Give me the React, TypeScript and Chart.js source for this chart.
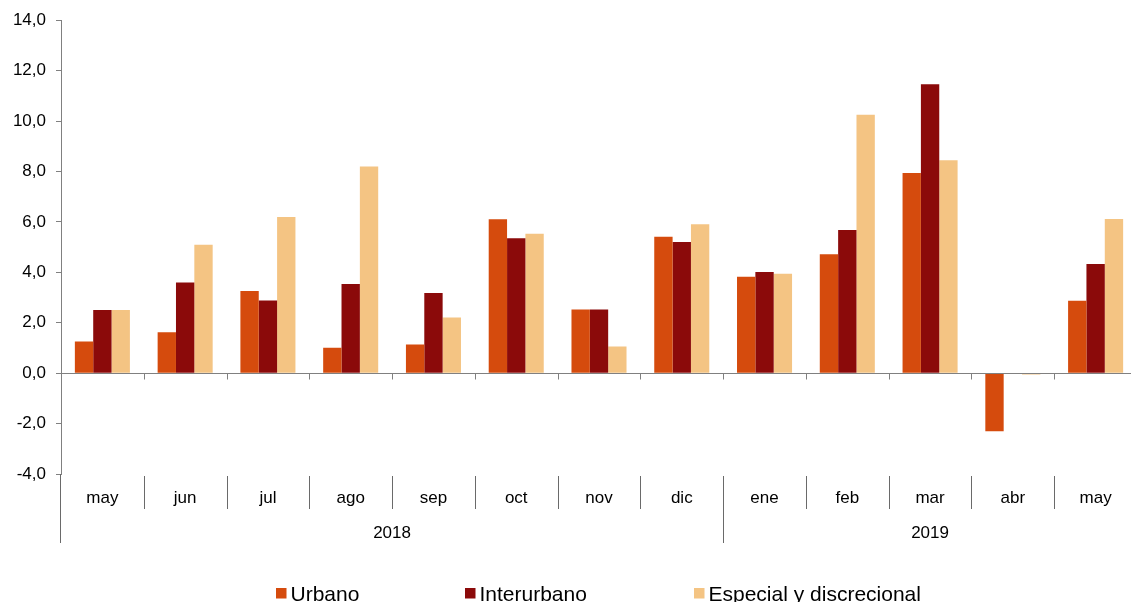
import React, { useEffect, useRef } from "react";
import { Chart, registerables } from "chart.js";

Chart.register(...registerables);

const months = ["may", "jun", "jul", "ago", "sep", "oct", "nov", "dic", "ene", "feb", "mar", "abr", "may"];
const years = ["2018", "2019"];
const yearStarts = [0, 8];
const yearEnds = [7, 12];
const urbano = [1.26, 1.62, 3.26, 1.01, 1.14, 6.1, 2.52, 5.41, 3.82, 4.72, 7.94, -2.3, 2.87];
const interurbano = [2.51, 3.6, 2.88, 3.54, 3.18, 5.35, 2.52, 5.2, 4.01, 5.68, 11.46, -0.03, 4.33];
const especial = [2.51, 5.09, 6.19, 8.2, 2.21, 5.53, 1.06, 5.91, 3.94, 10.25, 8.44, -0.05, 6.11];
const seriesNames = ["Urbano", "Interurbano", "Especial y discrecional"];
const seriesColors = ["#D54B0D", "#8B0A0A", "#F4C483"];

const FONT = "'Liberation Sans', Arial, sans-serif";
const AXIS_COLOR = "#808080";

const decorPlugin = {
  id: "decor",
  afterDatasetsDraw(chart: any) {
    const { ctx, chartArea } = chart;
    const x = chart.scales.x;
    const y = chart.scales.y;
    const n = months.length;
    const catW = (chartArea.right - chartArea.left) / n;
    const boundary = (i: number) => x.getPixelForValue(i) - catW / 2;
    const zero = Math.round(y.getPixelForValue(0)) + 0.5;
    ctx.save();
    ctx.strokeStyle = AXIS_COLOR;
    ctx.lineWidth = 1;
    ctx.beginPath();
    ctx.moveTo(chartArea.left, zero);
    ctx.lineTo(chartArea.right, zero);
    for (let i = 1; i <= n; i++) {
      const bx = Math.round(boundary(i)) + 0.5;
      ctx.moveTo(bx, zero);
      ctx.lineTo(bx, zero + 6);
    }
    ctx.stroke();

    const bottom = chartArea.bottom;
    ctx.strokeStyle = "#6a6a6a";
    ctx.beginPath();
    for (let i = 1; i < n; i++) {
      const bx = Math.round(boundary(i)) + 0.5;
      const isYear = yearStarts.includes(i);
      ctx.moveTo(bx, bottom + 2);
      ctx.lineTo(bx, bottom + (isYear ? 69 : 35));
    }
    const lx = Math.round(chartArea.left) - 0.5;
    ctx.moveTo(lx, bottom);
    ctx.lineTo(lx, bottom + 69);
    ctx.stroke();

    ctx.fillStyle = "#000";
    ctx.font = `17px ${FONT}`;
    ctx.textAlign = "center";
    ctx.textBaseline = "middle";
    months.forEach((m, i) => {
      ctx.fillText(m, x.getPixelForValue(i), bottom + 24);
    });
    years.forEach((yr, k) => {
      const cx = (boundary(yearStarts[k]) + boundary(yearEnds[k] + 1)) / 2;
      ctx.fillText(yr, cx, bottom + 59);
    });

    // legend
    const legendX = [276, 465, 694];
    ctx.font = `21px ${FONT}`;
    ctx.textAlign = "left";
    ctx.textBaseline = "alphabetic";
    seriesNames.forEach((name, k) => {
      ctx.fillStyle = seriesColors[k];
      ctx.fillRect(legendX[k], 588, 10.5, 10.5);
      ctx.fillStyle = "#000";
      ctx.fillText(name, legendX[k] + 14.5, 600.5);
    });
    ctx.restore();
  },
};

export default function App() {
  const ref = useRef<HTMLCanvasElement | null>(null);
  useEffect(() => {
    if (!ref.current) return;
    const mk = (label: string, data: number[], color: string) => ({
      label,
      data,
      backgroundColor: color,
      borderWidth: 0,
      categoryPercentage: 0.665,
      barPercentage: 1.0,
    });
    const chart = new Chart(ref.current, {
      type: "bar",
      data: {
        labels: months,
        datasets: [
          mk(seriesNames[0], urbano, seriesColors[0]),
          mk(seriesNames[1], interurbano, seriesColors[1]),
          mk(seriesNames[2], especial, seriesColors[2]),
        ],
      },
      options: {
        animation: false,
        responsive: false,
        devicePixelRatio: 1,
        layout: { padding: { top: 19, right: 8, bottom: 128, left: 0 } },
        plugins: { legend: { display: false }, tooltip: { enabled: false } },
        scales: {
          x: { display: false },
          y: {
            min: -4,
            max: 14,
            afterFit: (s: any) => {
              s.width = 61;
            },
            ticks: {
              stepSize: 2,
              padding: 10,
              color: "#000",
              font: { family: FONT, size: 17 },
              callback: (v: any) => Number(v).toFixed(1).replace(".", ","),
            },
            grid: {
              drawOnChartArea: false,
              drawTicks: true,
              tickLength: 5,
              color: AXIS_COLOR,
            },
            border: { display: true, color: AXIS_COLOR, width: 1 },
          },
        },
      },
      plugins: [decorPlugin],
    });
    return () => chart.destroy();
  }, []);
  return (
    <div style={{ position: "absolute", left: 0, top: 0, width: 1131, height: 602, overflow: "hidden", background: "#fff" }}>
      <canvas ref={ref} width={1145} height={602} style={{ display: "block", width: 1145, height: 602 }} />
    </div>
  );
}
